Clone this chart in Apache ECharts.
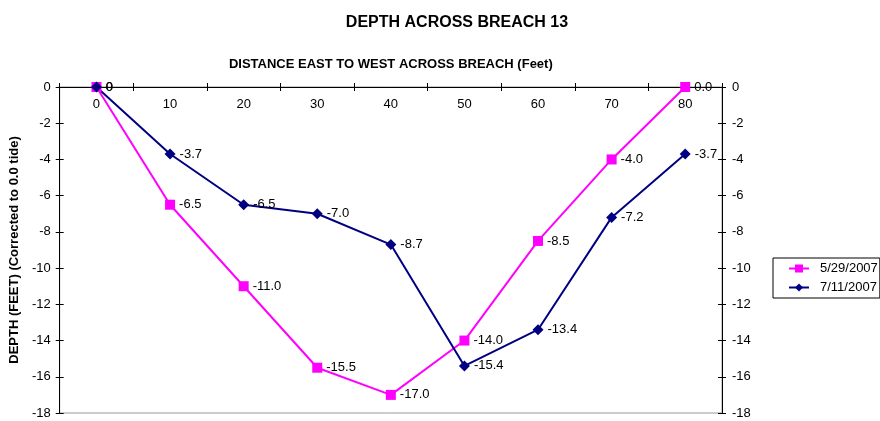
<!DOCTYPE html>
<html>
<head>
<meta charset="utf-8">
<script src="https://cdn.jsdelivr.net/npm/echarts@6/dist/echarts.min.js"></script>
<style>
  html, body { margin: 0; padding: 0; background: #fff; }
  #chart { width: 880px; height: 421px; }
</style>
</head>
<body>
<div id="chart"></div>
<script>
const distances = ['0', '10', '20', '30', '40', '50', '60', '70', '80']
const depthMay29 = [0, -6.5, -11.0, -15.5, -17.0, -14.0, -8.5, -4.0, 0.0]
const depthJul11 = [0, -3.7, -6.5, -7.0, -8.7, -15.4, -13.4, -7.2, -3.7]
const seriesNames = ['5/29/2007', '7/11/2007']

const font = 'Liberation Sans, Arial, sans-serif'

// y axes: one with outside ticks + labels, one with inside ticks only (gives crossing ticks)
function yAxisDef(position, inside, withLabels) {
  return {
    type: 'value',
    position: position,
    min: -18,
    max: 0,
    interval: 2,
    splitLine: { show: false },
    axisLine: { show: true, onZero: false, lineStyle: { color: '#000', width: 1 } },
    axisTick: { show: true, inside: inside, length: 4, lineStyle: { color: '#000' } },
    axisLabel: {
      show: withLabels,
      fontFamily: font,
      fontSize: 13,
      color: '#000',
      margin: position === 'left' ? 9 : 10
    }
  }
}

function xAxisDef(inside, withLabels) {
  return {
    type: 'category',
    position: 'top',
    data: distances,
    boundaryGap: true,
    axisLine: { show: true, onZero: false, lineStyle: { color: '#000', width: 1 } },
    axisTick: { show: true, inside: inside, length: 4, lineStyle: { color: '#000' } },
    axisLabel: {
      show: withLabels,
      inside: true,
      fontFamily: font,
      fontSize: 13,
      color: '#000',
      margin: 11
    }
  }
}

const chart = echarts.init(document.getElementById('chart'), null, { renderer: 'canvas' })

const yLeft = yAxisDef('left', false, true)
yLeft.name = 'DEPTH (FEET) (Corrected to 0.0 tide)'
yLeft.nameLocation = 'middle'
yLeft.nameGap = 32
yLeft.nameTextStyle = { fontFamily: font, fontSize: 13, fontWeight: 'bold', color: '#000' }

const xMain = xAxisDef(false, true)
xMain.name = 'DISTANCE EAST TO WEST ACROSS BREACH (Feet)'
xMain.nameLocation = 'middle'
xMain.nameGap = 16
xMain.nameTextStyle = { fontFamily: font, fontSize: 13, fontWeight: 'bold', color: '#000' }

const labelOpt = {
  show: true,
  position: 'right',
  distance: 4,
  fontFamily: font,
  fontSize: 13,
  color: '#000',
  formatter: p => (p.dataIndex === 0 ? '0' : p.value.toFixed(1))
}

chart.setOption({
  animation: false,
  textStyle: { fontFamily: font },
  title: {
    text: 'DEPTH ACROSS BREACH 13',
    left: 452,
    top: 10,
    textAlign: 'center',
    textStyle: { fontFamily: font, fontSize: 16, fontWeight: 'bold', color: '#000' }
  },
  grid: {
    left: 59,
    right: 158,
    top: 87,
    bottom: 8,
    show: true,
    borderColor: '#999',
    borderWidth: 1,
    backgroundColor: 'transparent'
  },
  legend: {
    orient: 'vertical',
    left: 773,
    top: 258,
    padding: [4, 2, 4, 15],
    itemGap: 6,
    itemWidth: 20,
    itemHeight: 10,
    borderColor: '#000',
    borderWidth: 1,
    textStyle: { fontFamily: font, fontSize: 13, color: '#000', padding: [0, 0, 0, 6] },
    data: seriesNames
  },
  xAxis: [xMain, xAxisDef(true, false)],
  yAxis: [
    yLeft,
    yAxisDef('left', true, false),
    yAxisDef('right', false, true),
    yAxisDef('right', true, false)
  ],
  series: [
    {
      name: seriesNames[0],
      type: 'line',
      data: depthMay29,
      symbol: 'rect',
      symbolSize: 10,
      itemStyle: { color: '#ff00ff' },
      lineStyle: { color: '#ff00ff', width: 2 },
      label: labelOpt
    },
    {
      name: seriesNames[1],
      type: 'line',
      data: depthJul11,
      symbol: 'diamond',
      symbolSize: 11,
      itemStyle: { color: '#000080' },
      lineStyle: { color: '#000080', width: 2 },
      label: labelOpt
    }
  ]
})
</script>
</body>
</html>
